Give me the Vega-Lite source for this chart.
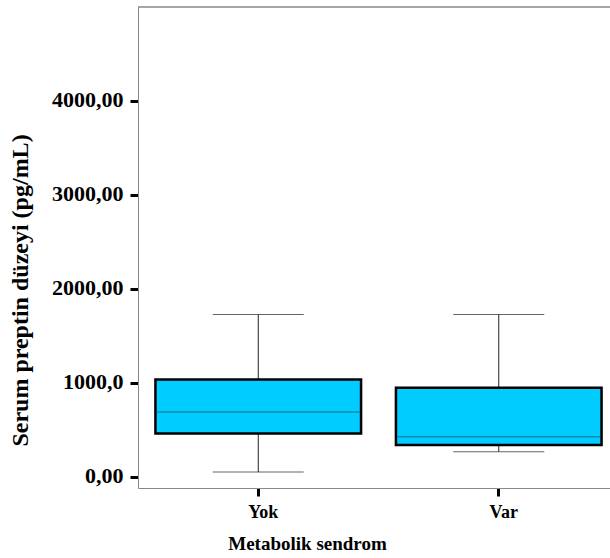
{
  "$schema": "https://vega.github.io/schema/vega-lite/v6.json",
  "width": 472,
  "height": 481,
  "autosize": "none",
  "padding": {"left": 138, "top": 7, "right": 0, "bottom": 70},
  "background": "white",
  "view": {"stroke": null},
  "config": {
    "font": "Liberation Serif",
    "axis": {"grid": false, "labelFont": "Liberation Serif", "titleFont": "Liberation Serif", "labelFontWeight": "bold", "titleFontWeight": "bold", "labelColor": "black", "titleColor": "black"}
  },
  "data": {
    "values": [
      {"group": "Yok", "lower": 53, "q1": 464, "median": 691, "q3": 1038, "upper": 1729},
      {"group": "Var", "lower": 269, "q1": 340, "median": 428, "q3": 949, "upper": 1729}
    ]
  },
  "layer": [
    {
      "mark": {"type": "rule", "color": "#222222", "strokeWidth": 1},
      "encoding": {
        "x": {
          "field": "group", "type": "nominal", "sort": ["Yok", "Var"],
          "scale": {"type": "band", "range": [0, 481], "paddingInner": 0, "paddingOuter": 0},
          "axis": {
            "title": "Metabolik sendrom", "titleFontSize": 19, "titleX": 169, "titleY": 55, "titleAlign": "center", "titleBaseline": "middle",
            "labelFontSize": 18, "labelAngle": 0, "labelPadding": 7, "labelOffset": 5,
            "domainColor": "#888888", "domainWidth": 1, "tickColor": "black", "tickWidth": 3, "tickSize": 8
          }
        },
        "y": {
          "field": "lower", "type": "quantitative",
          "scale": {"domain": [-117, 5000], "nice": false, "zero": false},
          "axis": {
            "title": "Serum preptin düzeyi (pg/mL)", "titleFontSize": 24, "titleX": -118, "titleY": 283, "titleAngle": -90, "titleAlign": "center", "titleBaseline": "middle",
            "values": [0, 1000, 2000, 3000, 4000],
            "labelExpr": "datum.value == 1000 ? '1000,0' : replace(format(datum.value, '.2f'), '.', ',')",
            "labelFontSize": 22, "labelPadding": 7, "labelOffset": -2,
            "domainColor": "#888888", "domainWidth": 1, "tickColor": "black", "tickWidth": 3, "tickSize": 8
          }
        },
        "y2": {"field": "upper"}
      }
    },
    {
      "mark": {"type": "tick", "color": "#222222", "thickness": 1, "size": 91},
      "encoding": {
        "x": {"field": "group", "type": "nominal", "sort": ["Yok", "Var"]},
        "y": {"field": "lower", "type": "quantitative"}
      }
    },
    {
      "mark": {"type": "tick", "color": "#222222", "thickness": 1, "size": 91},
      "encoding": {
        "x": {"field": "group", "type": "nominal", "sort": ["Yok", "Var"]},
        "y": {"field": "upper", "type": "quantitative"}
      }
    },
    {
      "mark": {"type": "bar", "fill": "#00CCFF", "stroke": "black", "strokeWidth": 2.5, "width": {"band": 0.855}},
      "encoding": {
        "x": {"field": "group", "type": "nominal", "sort": ["Yok", "Var"]},
        "y": {"field": "q1", "type": "quantitative"},
        "y2": {"field": "q3"}
      }
    },
    {
      "mark": {"type": "tick", "color": "#136f87", "thickness": 1.5, "size": 203},
      "encoding": {
        "x": {"field": "group", "type": "nominal", "sort": ["Yok", "Var"]},
        "y": {"field": "median", "type": "quantitative"}
      }
    },
    {
      "mark": {"type": "rule", "color": "#888888", "strokeWidth": 1},
      "encoding": {"y": {"datum": 5000, "type": "quantitative"}}
    }
  ]
}
